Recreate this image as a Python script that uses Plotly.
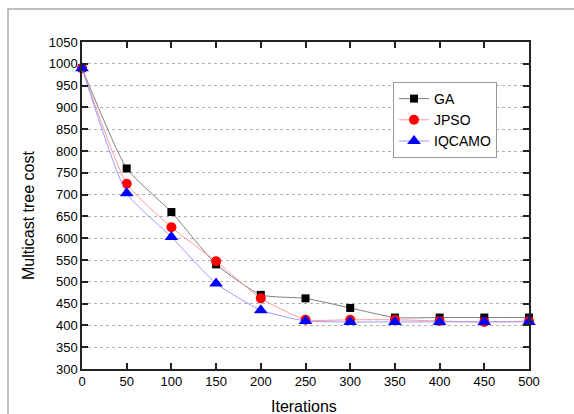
import plotly.graph_objects as go

iterations = [0, 50, 100, 150, 200, 250, 300, 350, 400, 450, 500]
ga = [990, 760, 660, 540, 470, 462, 440, 418, 418, 418, 418]
jpso = [990, 725, 625, 547, 462, 413, 413, 413, 410, 408, 410]
iqcamo = [990, 703, 603, 496, 435, 410, 408, 408, 408, 408, 408]

series = [
    ("GA", ga, "#808080", "black", "square", 8),
    ("JPSO", jpso, "#ff9a9a", "red", "circle", 10),
    ("IQCAMO", iqcamo, "#9a9aff", "blue", "triangle-up", 12),
]

fig = go.Figure()
for name, vals, lc, mc, sym, ms in series:
    fig.add_trace(go.Scatter(
        x=iterations, y=vals, name=name, mode="lines+markers",
        line=dict(color=lc, width=1, shape="spline", smoothing=0.5),
        marker=dict(color=mc, symbol=sym, size=ms),
        cliponaxis=False,
    ))

W, H = 574, 414
L, R, T, B = 82, 45, 42, 45
pw, ph = W - L - R, H - T - B

fig.update_layout(
    width=W, height=H,
    margin=dict(l=L, r=R, t=T, b=B, autoexpand=False),
    paper_bgcolor="white", plot_bgcolor="white",
    font=dict(family="Liberation Sans, Arial, sans-serif", size=13, color="black"),
    showlegend=True,
    legend=dict(
        x=(393 - L) / pw, y=(H - B - 82) / ph, xanchor="left", yanchor="top",
        bordercolor="#999999", borderwidth=1, bgcolor="white",
        font=dict(size=14), tracegroupgap=0, itemwidth=30,
    ),
    shapes=[dict(
        type="rect", xref="paper", yref="paper",
        x0=(8 - L) / pw, x1=(W + 20 - L) / pw,
        y0=(H - B - (H + 20)) / ph, y1=(H - B - 9) / ph,
        line=dict(color="#aaaaaa", width=1.5), layer="below",
    )],
    annotations=[
        dict(text="Iterations", xref="paper", yref="paper",
             x=(304 - L) / pw, y=-27 / ph, xanchor="center", yanchor="top",
             showarrow=False, font=dict(size=16)),
        dict(text="Multicast tree cost", xref="paper", yref="paper",
             x=(29 - L) / pw, y=(H - B - 216) / ph, xanchor="center", yanchor="middle",
             textangle=-90, showarrow=False, font=dict(size=16)),
    ],
)

fig.update_xaxes(
    range=[0, 500], dtick=50, tick0=0, automargin=False,
    showline=True, linecolor="#222222", linewidth=1.5, mirror="allticks",
    ticks="inside", ticklen=6, tickwidth=1.5, tickcolor="#222222",
    showgrid=False, zeroline=False,
)
fig.update_yaxes(
    range=[300, 1050], dtick=50, tick0=300, automargin=False,
    showline=True, linecolor="#222222", linewidth=1.5, mirror="allticks",
    ticks="inside", ticklen=6, tickwidth=1.5, tickcolor="#222222",
    showgrid=True, gridcolor="#b0b0b0", griddash="dot", gridwidth=1,
    zeroline=False,
)

fig.write_html(
    "out.html",
    config={"displayModeBar": False},
    post_script="document.body.style.margin='0';document.body.style.overflow='hidden';",
)
